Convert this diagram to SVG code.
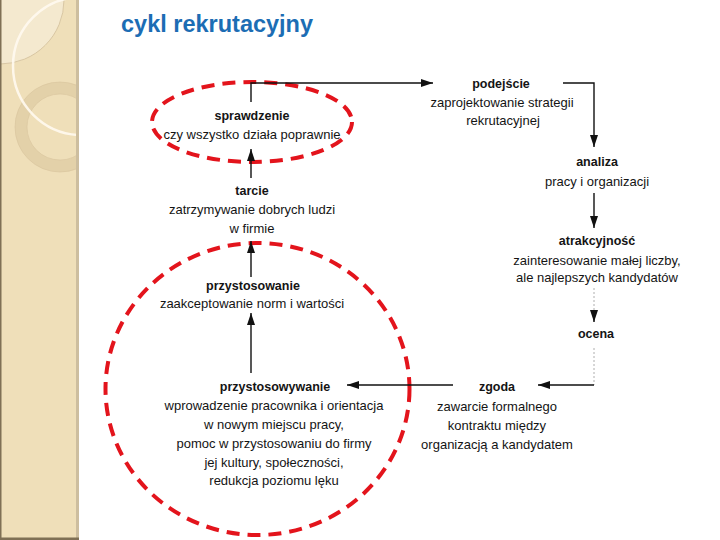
<svg xmlns="http://www.w3.org/2000/svg" width="720" height="540" viewBox="0 0 720 540">
  <defs>
    <style>
      .t { font-family: "Liberation Sans", Arial, sans-serif; font-size: 13px; fill: #141414; text-anchor: middle; }
      .b { font-weight: bold; font-size: 12.5px; }
      .ln { fill: none; stroke: #111; stroke-width: 1.4; }
      .faint { fill: none; stroke: #9a9a9a; stroke-width: 0.8; stroke-dasharray: 2 2; }
      .oval { fill: none; stroke: #e3141c; stroke-width: 4; stroke-dasharray: 13 8; }
    </style>
    <marker id="arr" viewBox="0 0 12 8" refX="12" refY="4" markerWidth="12" markerHeight="8" markerUnits="userSpaceOnUse" orient="auto">
      <path d="M0,0 L12,4 L0,8 z" fill="#111"/>
    </marker>
    <clipPath id="strip">
      <rect x="0" y="0" width="78" height="540"/>
    </clipPath>
  </defs>

  <rect width="720" height="540" fill="#ffffff"/>

  <!-- decorative left strip -->
  <g id="strip-deco">
    <rect x="0" y="0" width="78" height="540" fill="#efdfb9"/>
    <g clip-path="url(#strip)">
      <circle cx="0" cy="0" r="64" fill="#f4e9cf" stroke="#cdb993" stroke-width="0.7"/>
      <circle cx="60" cy="127" r="39" fill="none" stroke="#e3d1a9" stroke-width="12"/>
      <circle cx="60" cy="127" r="45" fill="none" stroke="#d8c59d" stroke-width="0.6"/>
      <circle cx="60" cy="127" r="33" fill="none" stroke="#d8c59d" stroke-width="0.6"/>
      <circle cx="82" cy="66" r="69" fill="none" stroke="#fffaf0" stroke-width="2.5" opacity="0.9"/>
    </g>
    <rect x="0" y="0" width="1.5" height="540" fill="#7f7055"/>
    <rect x="76" y="0" width="3" height="540" fill="#cdbe9f"/>
    <rect x="0" y="537.5" width="79" height="2.5" fill="#7f7055"/>
  </g>

  <text x="121" y="32" font-family="Liberation Sans, Arial, sans-serif" font-size="23.5" font-weight="bold" fill="#1c6db4">cykl rekrutacyjny</text>

  <!-- highlight ovals -->
  <g id="highlights">
    <ellipse class="oval" cx="252" cy="122" rx="100" ry="40"/>
    <ellipse class="oval" cx="257.5" cy="389" rx="152" ry="146"/>
  </g>

  <!-- connectors -->
  <g id="connectors">
    <path class="ln" d="M251,102 V83 H433" marker-end="url(#arr)"/>
    <path class="ln" d="M563,83 H594 V147" stroke-width="1.1" marker-end="url(#arr)"/>
    <path class="ln" d="M594,193 V228" stroke-width="1.1" marker-end="url(#arr)"/>
    <path class="faint" d="M594,288 V312"/>
    <path class="ln" d="M594,310 V322" stroke-width="0.8" marker-end="url(#arr)"/>
    <path class="faint" d="M594,348 V385"/>
    <path class="ln" d="M594,385 H538" marker-end="url(#arr)"/>
    <path class="ln" d="M453,385 H347" marker-end="url(#arr)"/>
    <path class="ln" d="M251,373 V313" marker-end="url(#arr)"/>
    <path class="ln" d="M251,277 V241" marker-end="url(#arr)"/>
    <path class="ln" d="M251,178 V149" marker-end="url(#arr)"/>
  </g>

  <!-- nodes -->
  <g id="node-sprawdzenie">
    <text class="t b" x="252" y="120">sprawdzenie</text>
    <text class="t" x="252" y="139">czy wszystko działa poprawnie</text>
  </g>
  <g id="node-podejscie">
    <text class="t b" x="501" y="88">podejście</text>
    <text class="t" x="502" y="107">zaprojektowanie strategii</text>
    <text class="t" x="503" y="125">rekrutacyjnej</text>
  </g>
  <g id="node-analiza">
    <text class="t b" x="597" y="166">analiza</text>
    <text class="t" x="597" y="186">pracy i organizacji</text>
  </g>
  <g id="node-atrakcyjnosc">
    <text class="t b" x="597" y="245">atrakcyjność</text>
    <text class="t" x="597" y="265">zainteresowanie małej liczby,</text>
    <text class="t" x="597" y="282">ale najlepszych kandydatów</text>
  </g>
  <g id="node-ocena">
    <text class="t b" x="596" y="338">ocena</text>
  </g>
  <g id="node-zgoda">
    <text class="t b" x="497" y="391">zgoda</text>
    <text class="t" x="497" y="411">zawarcie formalnego</text>
    <text class="t" x="497" y="430">kontraktu między</text>
    <text class="t" x="497" y="449">organizacją a kandydatem</text>
  </g>
  <g id="node-przystosowywanie">
    <text class="t b" x="275" y="391">przystosowywanie</text>
    <text class="t" x="274" y="410">wprowadzenie pracownika i orientacja</text>
    <text class="t" x="274" y="429">w nowym miejscu pracy,</text>
    <text class="t" x="274" y="448">pomoc w przystosowaniu do firmy</text>
    <text class="t" x="274" y="467">jej kultury, społeczności,</text>
    <text class="t" x="274" y="485">redukcja poziomu lęku</text>
  </g>
  <g id="node-przystosowanie">
    <text class="t b" x="253" y="290">przystosowanie</text>
    <text class="t" x="252" y="308">zaakceptowanie norm i wartości</text>
  </g>
  <g id="node-tarcie">
    <text class="t b" x="252" y="195">tarcie</text>
    <text class="t" x="252" y="214">zatrzymywanie dobrych ludzi</text>
    <text class="t" x="252" y="233">w firmie</text>
  </g>
</svg>
